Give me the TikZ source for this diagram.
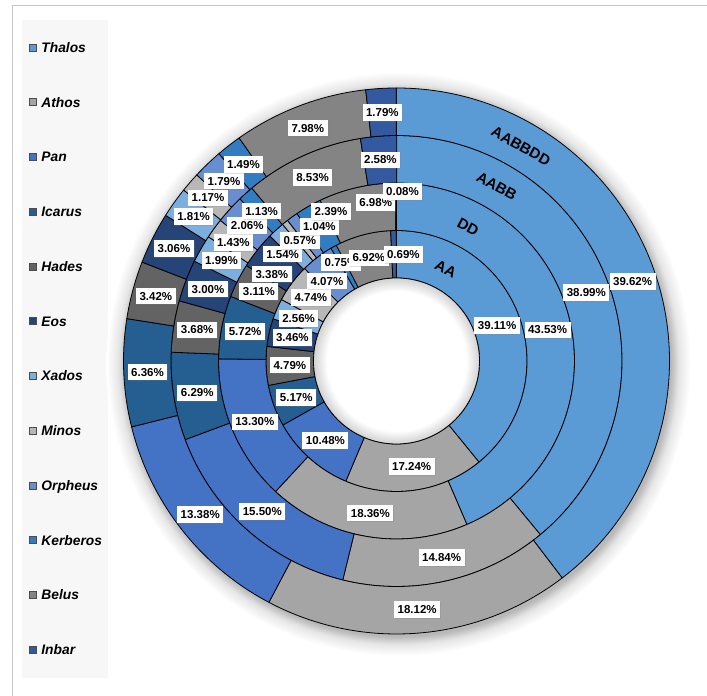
\documentclass[tikz,border=0pt]{standalone}
\usepackage{fontspec}
\setmainfont{Liberation Sans}
\usepackage{tikz}
\usetikzlibrary{positioning}
\usetikzlibrary{shadows}

% soft shadow round the rings and inside the hole
\pgfdeclareradialshading{ringshadow}{\pgfpoint{0bp}{0bp}}{color(0bp)=(black!28); color(23.3bp)=(black!28); color(24bp)=(black!10); color(25bp)=(white); color(50bp)=(white)}
\pgfdeclareradialshading{holeshadow}{\pgfpoint{0bp}{0bp}}{color(0bp)=(white); color(21bp)=(white); color(25bp)=(black!18); color(50bp)=(black!18)}

% one ring of the doughnut: inner radius, outer radius, data
\newcommand{\donutring}[3]{%
  \gdef\angstart{90}%
  \foreach \val/\col/\dx/\dy in #3 {%
    \pgfmathsetmacro\angend{\angstart-3.6*\val}%
    \draw[segment, fill=\col] (\angstart:#2) arc[start angle=\angstart, end angle=\angend, radius=#2]
      -- (\angend:#1) arc[start angle=\angend, end angle=\angstart, radius=#1] -- cycle;
    \xdef\angstart{\angend}%
  }%
}
% the percent labels of one ring: inner radius, outer radius, name, data
\newcommand{\donutlabels}[4]{%
  \gdef\angstart{90}%
  \foreach \val/\col/\dx/\dy [count=\i] in #4 {%
    \pgfmathsetmacro\angend{\angstart-3.6*\val}%
    \pgfmathsetmacro\lx{cos((\angstart+\angend)/2)*(#1+#2)/2+\dx}%
    \pgfmathsetmacro\ly{sin((\angstart+\angend)/2)*(#1+#2)/2+\dy}%
    \node[pct] (#3\i) at (\lx,\ly) {\val\%};
    \xdef\angstart{\angend}%
  }%
}

\def\dataAA{39.11/thalos/0/0, 17.24/athos/0/0, 10.48/pan/0/0, 5.17/icarus/0/0,
  4.79/hades/0/0, 3.46/eos/0/0, 2.56/xados/0/0, 4.74/minos/0/0,
  4.07/orpheus/-4.6/-4.8, 0.75/kerberos/-4/5, 6.92/belus/0/0, 0.69/inbar/9.3/0}
\def\dataDD{43.53/thalos/0/0, 18.36/athos/0/0, 13.30/pan/0/0, 5.72/icarus/0/0,
  3.11/hades/0/0, 3.38/eos/-4/-9.2, 1.54/xados/-9.5/-6.6, 0.57/minos/0/0,
  1.04/orpheus/13.3/9.5, 2.39/kerberos/11/15.5, 6.98/belus/13.5/8.4, 0.08/inbar/6.4/15}
\def\dataAABB{38.99/thalos/0/0, 14.84/athos/0/0, 15.50/pan/0/0, 6.29/icarus/0/0,
  3.68/hades/0/0, 3.00/eos/0/0, 1.99/xados/0/0, 1.43/minos/0/0,
  2.06/orpheus/0/0, 1.13/kerberos/0/0, 8.53/belus/0/0, 2.58/inbar/0/0}
\def\dataAABBDD{39.62/thalos/0/0, 18.12/athos/0/0, 13.38/pan/0/0, 6.36/icarus/0/0,
  3.42/hades/0/0, 3.06/eos/0/0, 1.81/xados/0/0, 1.17/minos/0/0,
  1.79/orpheus/0/0, 1.49/kerberos/0/0, 7.98/belus/0/0, 1.79/inbar/0/0}

\begin{document}
\begin{tikzpicture}[x=1pt, y=1pt,
    segment/.style={draw=black, line width=0.8pt, line join=round},
    pct/.style={fill=white, inner xsep=3.5pt, inner ysep=4pt, text height=8.4pt, text depth=0.3pt,
      font=\fontsize{11.5}{13}\selectfont\bfseries,
      drop shadow={opacity=0.25, shadow xshift=1pt, shadow yshift=-1pt}},
    ringname/.style={font=\fontsize{15}{17}\selectfont\bfseries, inner sep=0pt},
    legmark/.style={draw=black!70, line width=0.6pt, minimum size=7pt, inner sep=0pt},
    legtext/.style={font=\fontsize{13.8}{16}\selectfont\bfseries\itshape, inner sep=0pt,
      text height=9.6pt, text depth=0pt}]
        \definecolor{thalos}{HTML}{5B9BD5}
        \definecolor{athos}{HTML}{A5A5A5}
        \definecolor{pan}{HTML}{4472C4}
        \definecolor{icarus}{HTML}{255E91}
        \definecolor{hades}{HTML}{636363}
        \definecolor{eos}{HTML}{264478}
        \definecolor{xados}{HTML}{7CAFDD}
        \definecolor{minos}{HTML}{B7B7B7}
        \definecolor{orpheus}{HTML}{698ED0}
        \definecolor{kerberos}{HTML}{327DC2}
        \definecolor{belus}{HTML}{848484}
        \definecolor{inbar}{HTML}{335AA1}

        % Picture size and the frame lines
        \useasboundingbox (-396.5,-335) rectangle (310.5,361);
        \draw[black!22] (-384.5,-335) -- (-384.5,356) -- (310.5,356);

        % Legend panel
        \fill[black!3] (-374.5,341) rectangle (-288.5,-317);

        % Shadow under the doughnut
        \shade[shading=ringshadow] (2,-3) circle (292);

        % The four rings, inner to outer
        \donutring{83}{130.5}{\dataAA}
        \donutring{130.5}{178}{\dataDD}
        \donutring{178}{225.5}{\dataAABB}
        \donutring{225.5}{273}{\dataAABBDD}

        % The hole
        \shade[shading=holeshadow] (0,0) circle (83);
        \draw[segment, fill=none] (0,0) circle (83);

        % Percent labels
        \donutlabels{83}{130.5}{aa}{\dataAA}
        \donutlabels{130.5}{178}{dd}{\dataDD}
        \donutlabels{178}{225.5}{aabb}{\dataAABB}
        \donutlabels{225.5}{273}{aabbdd}{\dataAABBDD}

        % Ring names
        \node[ringname, rotate=-29] (nameaabbdd) at (124.5,215) {AABBDD};
        \node[ringname, rotate=-29] (nameaabb) at (100.2,175) {AABB};
        \node[ringname, rotate=-28] (namedd) at (71.5,134) {DD};
        \node[ringname, rotate=-28] (nameaa) at (49.2,92) {AA};

        % Legend entries
        \foreach \nm/\col [count=\i] in {Thalos/thalos, Athos/athos, Pan/pan, Icarus/icarus,
            Hades/hades, Eos/eos, Xados/xados, Minos/minos, Orpheus/orpheus,
            Kerberos/kerberos, Belus/belus, Inbar/inbar} {
          \node[legmark, fill=\col] (mark\i) at (-363.8,{313.5-54.75*(\i-1)}) {};
          \node[legtext, right=4.7pt of mark\i] (leg\i) {\nm};
        }
\end{tikzpicture}
\end{document}
